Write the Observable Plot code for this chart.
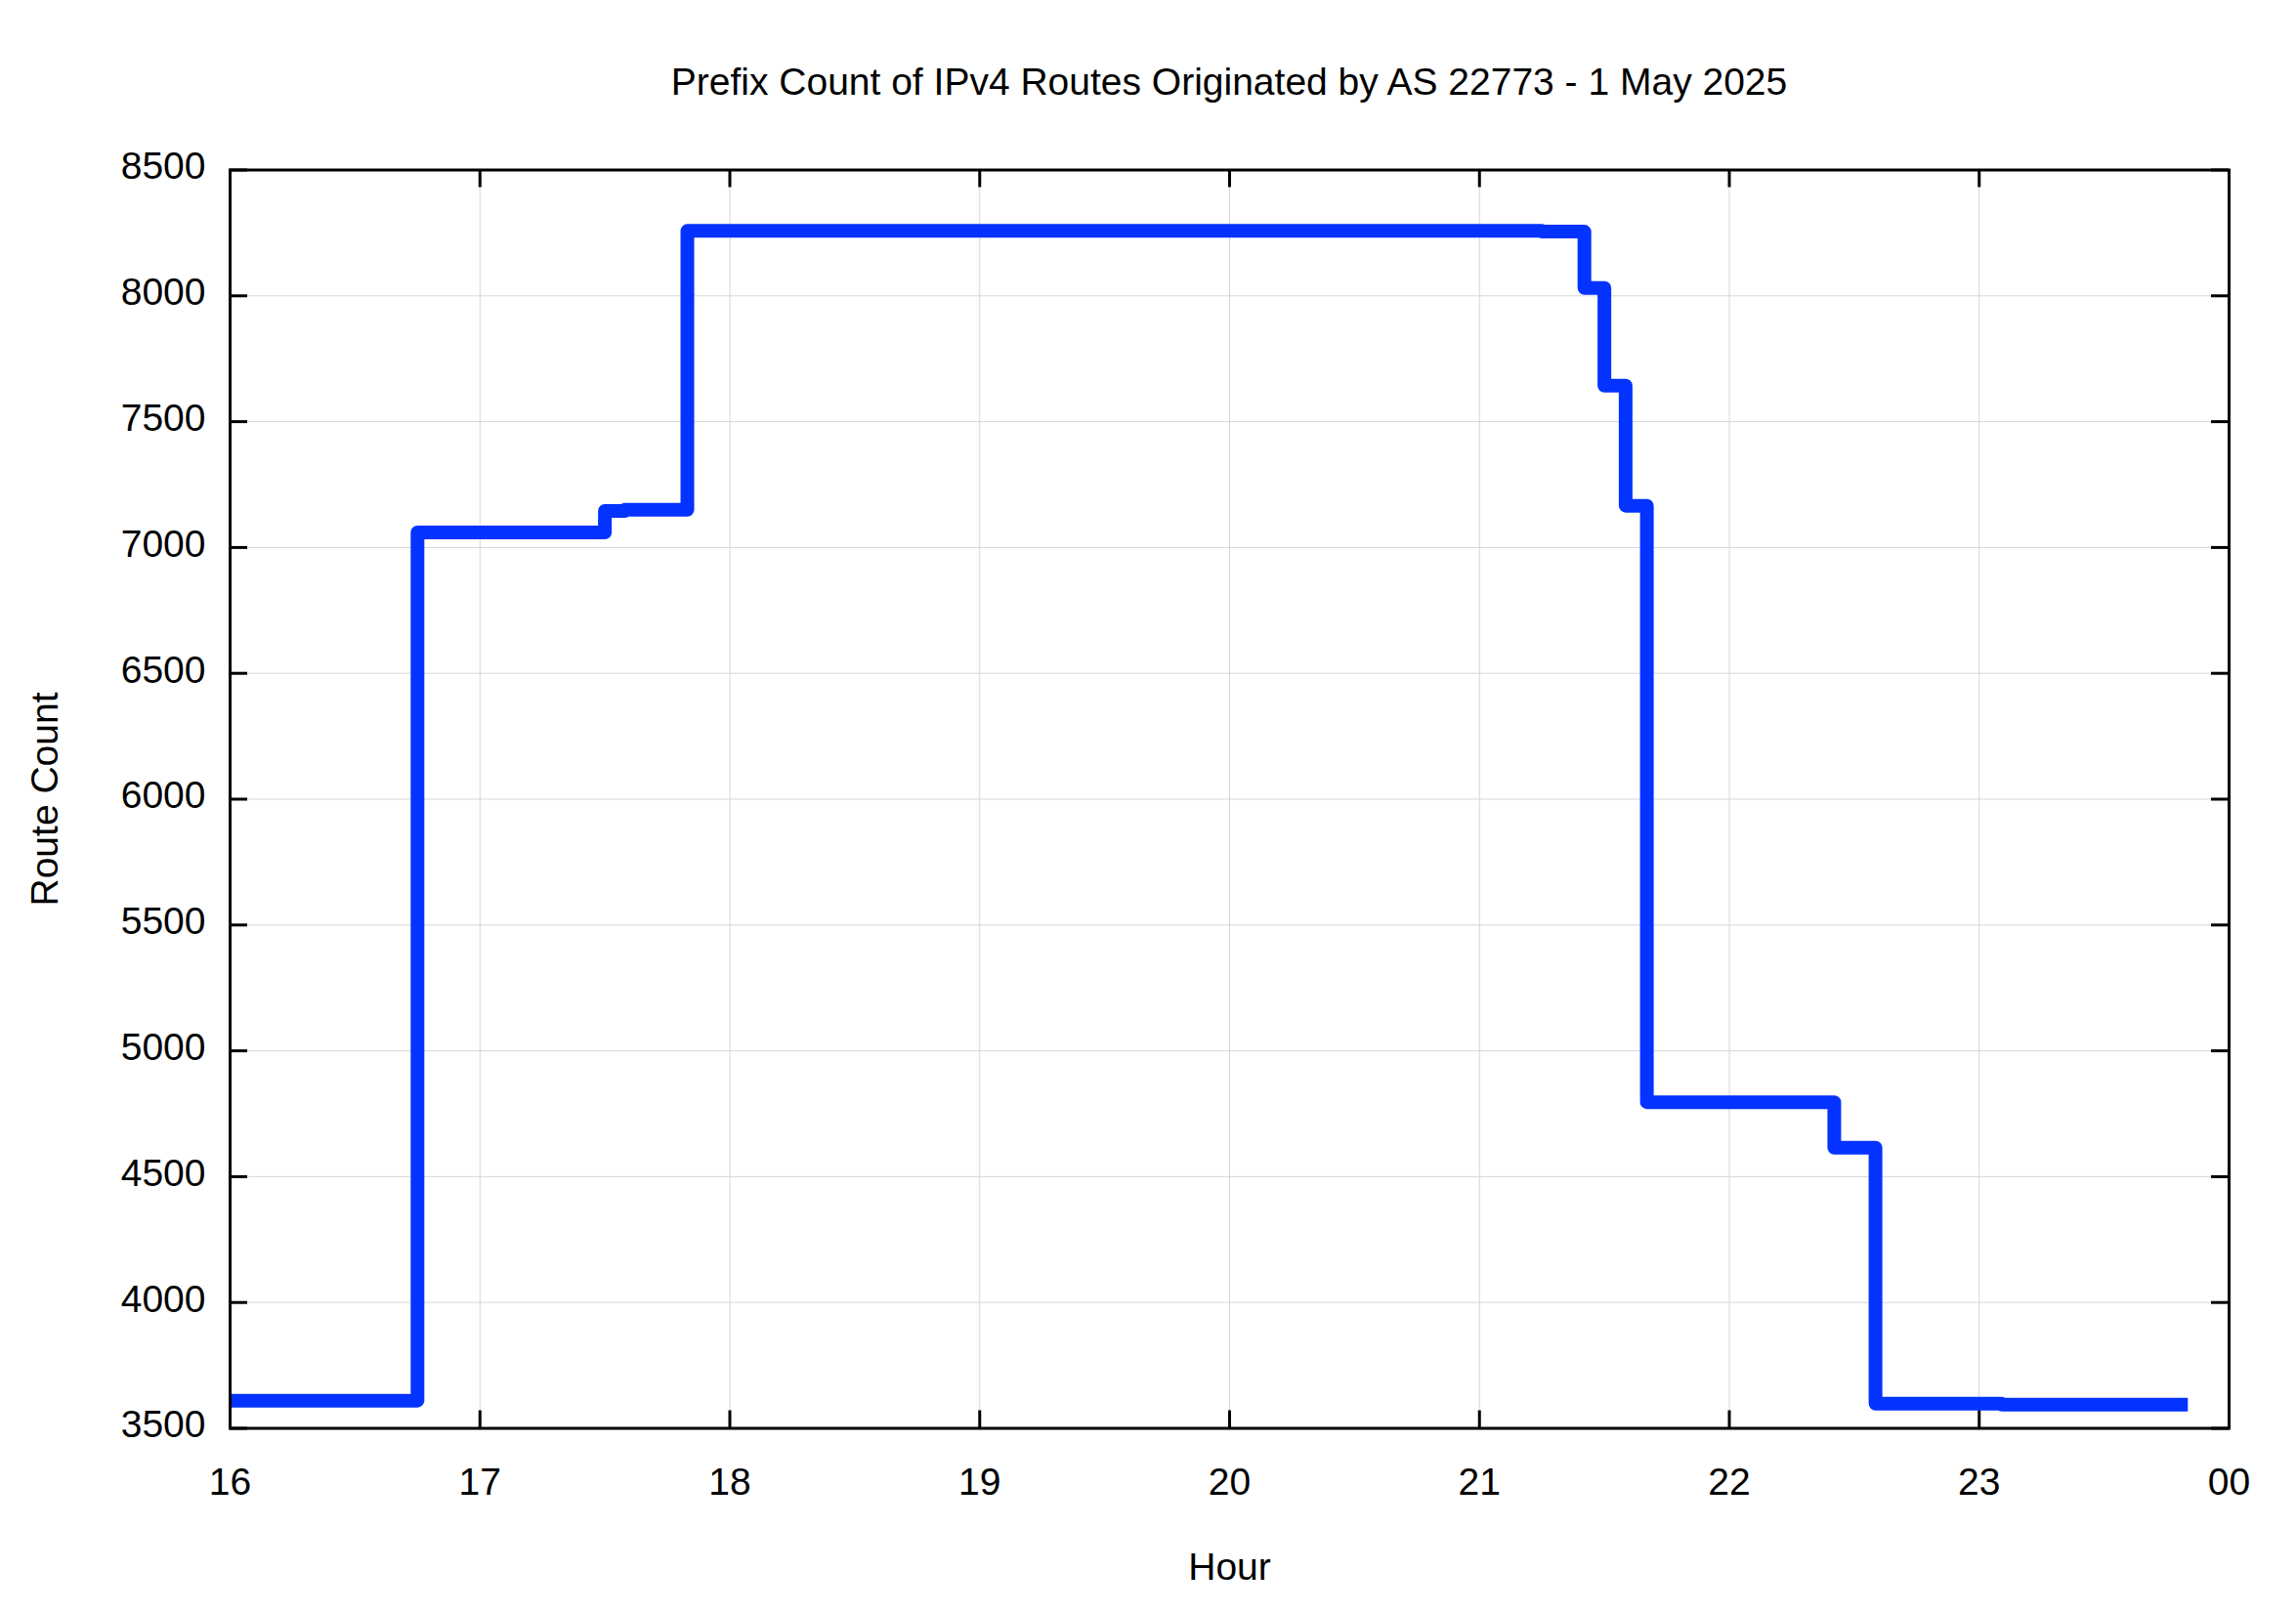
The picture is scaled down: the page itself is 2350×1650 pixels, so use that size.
<!DOCTYPE html>
<html>
<head>
<meta charset="utf-8">
<script src="https://cdn.jsdelivr.net/npm/d3@7"></script>
<script src="https://cdn.jsdelivr.net/npm/@observablehq/plot@0.6"></script>
<style>
  html, body { margin: 0; padding: 0; background: white; }
  #title {
    height: 120px; box-sizing: border-box; padding-top: 64px;
    margin-left: 235px; width: 2046px; text-align: center;
    font-family: "Liberation Sans", Arial, sans-serif; font-size: 39px; line-height: 39px;
    color: black; white-space: nowrap;
  }
</style>
</head>
<body>
<div id="title">Prefix Count of IPv4 Routes Originated by AS 22773 - 1 May 2025</div>
<div id="chart"></div>
<script>
const hours  = [16, 16.75, 17.5, 17.58, 17.83, 21.25, 21.42, 21.5, 21.585, 21.67, 22.42, 22.585, 23.09, 23.835];
const counts = [3610, 7060, 7145, 7150, 8258, 8255, 8031, 7643, 7166, 4796, 4615, 3598, 3594, 3594];

const xTicks = [16, 17, 18, 19, 20, 21, 22, 23, 24];
const xTickLabels = ["16", "17", "18", "19", "20", "21", "22", "23", "00"];
const yTicks = [3500, 4000, 4500, 5000, 5500, 6000, 6500, 7000, 7500, 8000, 8500];

const xLabel = "Hour";
const yLabel = "Route Count";

const data = hours.map((h, i) => ({hour: h, count: counts[i]}));

const W = 2350, H = 1530;
const mL = 235, mR = 69, mT = 53.5, mB = 188.5;
const fw = W - mL - mR, fh = H - mT - mB;
const tick = 18;

const chart = Plot.plot({
  width: W, height: H,
  marginLeft: mL, marginRight: mR, marginTop: mT, marginBottom: mB,
  style: {fontFamily: "'Liberation Sans', Arial, sans-serif", fontSize: "39px", background: "white", color: "black", overflow: "visible"},
  x: {type: "linear", domain: [16, 24]},
  y: {type: "linear", domain: [3500, 8500]},
  marks: [
    Plot.ruleX(xTicks, {x: d => d, stroke: "#d6d6d6", strokeWidth: 1}),
    Plot.ruleY(yTicks, {y: d => d, stroke: "#d6d6d6", strokeWidth: 1}),
    Plot.line(data, {x: "hour", y: "count", curve: "step-after", stroke: "#0433ff", strokeWidth: 14, strokeLinejoin: "round", strokeLinecap: "butt"}),
    Plot.tickX(xTicks, {x: d => d, stroke: "black", strokeWidth: 3, insetTop: fh - tick}),
    Plot.tickX(xTicks, {x: d => d, stroke: "black", strokeWidth: 3, insetBottom: fh - tick}),
    Plot.tickY(yTicks, {y: d => d, stroke: "black", strokeWidth: 3, insetRight: fw - tick}),
    Plot.tickY(yTicks, {y: d => d, stroke: "black", strokeWidth: 3, insetLeft: fw - tick}),
    Plot.frame({stroke: "black", strokeWidth: 3}),
    Plot.axisX(xTicks, {tickSize: 0, tickPadding: 40, tickFormat: d => xTickLabels[xTicks.indexOf(d)], label: null}),
    Plot.axisY(yTicks, {tickSize: 0, tickPadding: 25, tickFormat: d => String(d), label: null, dy: -3}),
    Plot.text([xLabel], {frameAnchor: "bottom", dy: 143, lineAnchor: "middle", textAnchor: "middle", text: d => d}),
    Plot.text([yLabel], {frameAnchor: "left", dx: -188.5, rotate: -90, lineAnchor: "middle", textAnchor: "middle", text: d => d})
  ]
});
document.getElementById("chart").appendChild(chart);
</script>
</body>
</html>
